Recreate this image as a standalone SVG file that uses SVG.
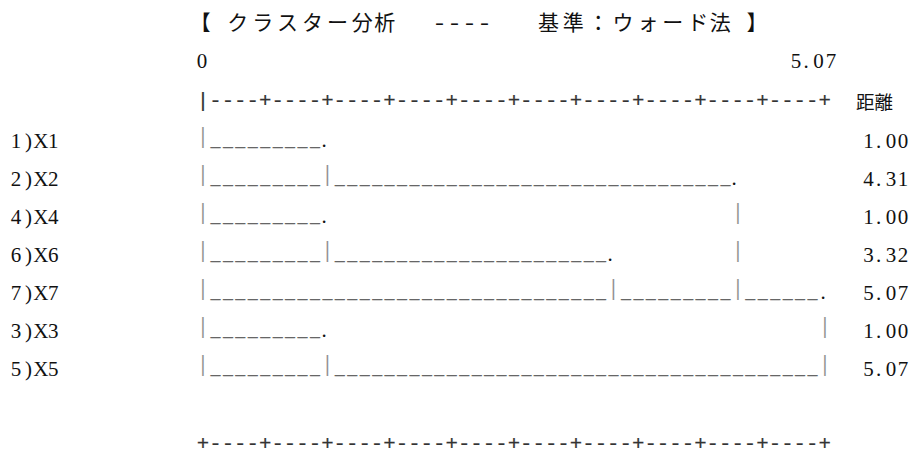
<svg xmlns="http://www.w3.org/2000/svg" width="919" height="462" viewBox="0 0 919 462">
<style>
.bg{fill:#ffffff}
.t{font-family:"Liberation Serif",serif;font-size:21px;fill:#111;text-anchor:middle}
.cjk{font-family:"Noto Sans CJK JP",sans-serif;fill:#111}
.r{font-family:"Liberation Mono",monospace;font-size:20.73px;fill:#333;stroke:#333;stroke-width:0.2px}
.u{font-family:"Liberation Serif",serif;font-size:20px;letter-spacing:2.44px;fill:#666}
.p{font-family:"Liberation Serif",serif;font-size:24px;fill:#8a8a8a;stroke:#8a8a8a;stroke-width:0.2px;text-anchor:middle}
.d{font-family:"Liberation Serif",serif;font-size:21px;fill:#111;text-anchor:middle}
</style>
<rect class="bg" x="0" y="0" width="919" height="462"/>
<g id="title">
<text class="cjk" y="30" font-size="21" text-anchor="middle"><tspan x="202.5">【</tspan> <tspan x="237.8">ク</tspan><tspan x="262.7">ラ</tspan><tspan x="287.6">ス</tspan><tspan x="312.5">タ</tspan><tspan x="337.4">ー</tspan><tspan x="362.2">分</tspan><tspan x="387.1">析</tspan> <tspan x="432" text-anchor="start" textLength="60" lengthAdjust="spacingAndGlyphs" style="font-family:'Liberation Mono',monospace;font-size:20.73px">----</tspan> <tspan x="548.4">基</tspan><tspan x="573.3">準</tspan><tspan x="598.2">：</tspan><tspan x="623.1">ウ</tspan><tspan x="648">ォ</tspan><tspan x="672.8">ー</tspan><tspan x="697.7">ド</tspan><tspan x="722.6">法</tspan> <tspan x="757">】</tspan></text>
</g>
<g id="scale">
<text class="t" x="202" y="68">0</text>
<text class="t" x="796 806 818.5 831" y="68">5.07</text>
<text class="r" x="196.8" y="106.5">|----+----+----+----+----+----+----+----+----+----+</text>
<text class="cjk" x="856" y="108.5" font-size="18.5">距離</text>
<text class="r" x="196.8" y="450">+----+----+----+----+----+----+----+----+----+----+</text>
</g>
<g id="labels">
<text class="t" x="16 28.4 40.9 53.3" y="147.5">1)X1</text>
<text class="t" x="16 28.4 40.9 53.3" y="185.5">2)X2</text>
<text class="t" x="16 28.4 40.9 53.3" y="223.5">4)X4</text>
<text class="t" x="16 28.4 40.9 53.3" y="261.5">6)X6</text>
<text class="t" x="16 28.4 40.9 53.3" y="299.5">7)X7</text>
<text class="t" x="16 28.4 40.9 53.3" y="337.5">3)X3</text>
<text class="t" x="16 28.4 40.9 53.3" y="375.5">5)X5</text>
</g>
<g id="distances">
<text class="d" x="868.5 878.5 891 903" y="147.5">1.00</text>
<text class="d" x="868.5 878.5 891 903" y="185.5">4.31</text>
<text class="d" x="868.5 878.5 891 903" y="223.5">1.00</text>
<text class="d" x="868.5 878.5 891 903" y="261.5">3.32</text>
<text class="d" x="868.5 878.5 891 903" y="299.5">5.07</text>
<text class="d" x="868.5 878.5 891 903" y="337.5">1.00</text>
<text class="d" x="868.5 878.5 891 903" y="375.5">5.07</text>
</g>
<g id="connectors">
<g id="row-x1">
<text class="p" x="203" y="143">|</text>
<text class="u" x="210.44" y="145">_________</text>
<text class="t" x="324" y="146.5">.</text>
</g>
<g id="row-x2">
<text class="p" x="203" y="181">|</text>
<text class="u" x="210.44" y="183">_________</text>
<text class="p" x="327.4" y="181">|</text>
<text class="u" x="334.84" y="183">________________________________</text>
<text class="t" x="734" y="184.5">.</text>
</g>
<g id="row-x4">
<text class="p" x="203" y="219">|</text>
<text class="u" x="210.44" y="221">_________</text>
<text class="t" x="324" y="222.5">.</text>
<text class="p" x="737.9" y="219">|</text>
</g>
<g id="row-x6">
<text class="p" x="203" y="257">|</text>
<text class="u" x="210.44" y="259">_________</text>
<text class="p" x="327.4" y="257">|</text>
<text class="u" x="334.84" y="259">______________________</text>
<text class="t" x="610" y="260.5">.</text>
<text class="p" x="737.9" y="257">|</text>
</g>
<g id="row-x7">
<text class="p" x="203" y="295">|</text>
<text class="u" x="210.44" y="297">________________________________</text>
<text class="p" x="613.5" y="295">|</text>
<text class="u" x="620.96" y="297">_________</text>
<text class="p" x="737.9" y="295">|</text>
<text class="u" x="745.36" y="297">______</text>
<text class="t" x="823" y="298.5">.</text>
</g>
<g id="row-x3">
<text class="p" x="203" y="333">|</text>
<text class="u" x="210.44" y="335">_________</text>
<text class="t" x="324" y="336.5">.</text>
<text class="p" x="825" y="333">|</text>
</g>
<g id="row-x5">
<text class="p" x="203" y="371">|</text>
<text class="u" x="210.44" y="373">_________</text>
<text class="p" x="327.4" y="371">|</text>
<text class="u" x="334.84" y="373">_______________________________________</text>
<text class="p" x="825" y="371">|</text>
</g>
</g>
</svg>
